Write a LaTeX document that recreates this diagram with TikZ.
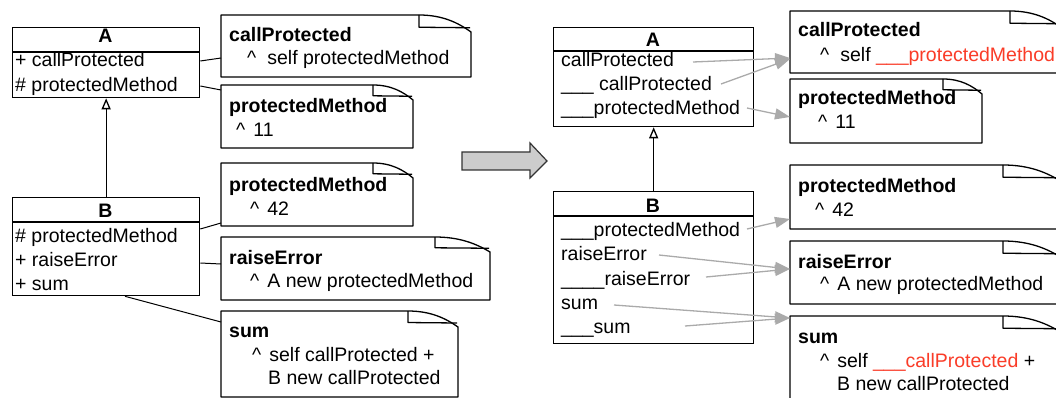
\documentclass[tikz,border=0pt]{standalone}
\usepackage{fontspec}
\setmainfont{Liberation Sans}
\usetikzlibrary{arrows.meta}
\definecolor{redt}{RGB}{250,60,40}
\definecolor{garr}{RGB}{170,170,170}
\definecolor{bigfill}{RGB}{204,204,204}
\newcommand\crt[1]{\textasciicircum\hspace{#1pt}}
\newcommand\mynote[7]{%
  \node[inner sep=0, outer sep=0, anchor=north west, minimum width={#4-#2}, minimum height={#5-#3}] (#1) at (#2,#3) {};
  \filldraw[fill=white, notedraw] (#2,#5) -- (#2,#3) -- (#6,#3) .. controls ({#6+0.45*(#4-#6)},#3) and ({#4-0.25*(#4-#6)},{#3+0.45*#7}) .. (#4,{#3+#7}) -- (#4,#5) -- cycle;
  \draw[notedraw] (#6,#3) -- (#6,{#3+0.72*#7}) -- ({#4-1},{#3+0.75*#7});
}
\begin{document}
\begin{tikzpicture}[x=1pt,y=-1pt,
  txt/.style={font=\fontsize{19.5}{24}\selectfont, inner sep=0, anchor=base west},
  ttl/.style={txt, font=\fontsize{19.5}{24}\selectfont\bfseries},
  classbox/.style={draw, line width=1.3pt, inner sep=0, anchor=north west},
  notedraw/.style={line width=1.3pt, line join=round},
  conn/.style={line width=1pt},
  garrow/.style={draw=garr, line width=1.3pt, -{Triangle[length=15pt,width=11pt]}},
  gen/.style={line width=1.3pt, -{Triangle[open,length=11pt,width=9pt,fill=white]}}
]
\clip (0,0) rectangle (1056,398);

% ---------- left: classes ----------
\node[classbox, minimum width=187pt, minimum height=70pt] (A) at (12,27) {};
\draw[line width=1.3pt] (A.west |- 0,52) -- (A.east |- 0,52);
\node[ttl, anchor=base] (At) at (105.5,43) {A};
\node[txt] (a1) at (15,67) {+ callProtected};
\node[txt] (a2) at (15,92) {\# protectedMethod};

\node[classbox, minimum width=187pt, minimum height=98pt] (B) at (12,197) {};
\draw[line width=1.3pt] (B.west |- 0,222) -- (B.east |- 0,222);
\node[ttl, anchor=base] (Bt) at (105.5,217) {B};
\node[txt] (b1) at (15,242) {\# protectedMethod};
\node[txt] (b2) at (15,266) {+ raiseError};
\node[txt] (b3) at (15,290) {+ sum};

\draw[gen] (B.north) -- (A.south);

% ---------- left: notes ----------
\mynote{n1}{221}{15}{471}{77}{419}{17}
\mynote{n2}{221}{85}{413}{148}{373}{15}
\mynote{n3}{221}{163}{413}{226}{373}{15}
\mynote{n4}{221}{237}{490}{300}{435}{15}
\mynote{n5}{221}{311}{458}{397}{408}{16}

\node[ttl] (n1a) at (229,42) {callProtected};
\node[txt] (n1b) at (247,65) {\crt{11}self protectedMethod};
\node[ttl] (n2a) at (229,113) {protectedMethod};
\node[txt] (n2b) at (236,137) {\crt{8}11};
\node[ttl] (n3a) at (229,191) {protectedMethod};
\node[txt] (n3b) at (250,215) {\crt{8}42};
\node[ttl] (n4a) at (229,264) {raiseError};
\node[txt] (n4b) at (250,287) {\crt{8}A new protectedMethod};
\node[ttl] (n5a) at (229,337) {sum};
\node[txt] (n5b) at (252,361) {\crt{8}self callProtected +};
\node[txt] (n5c) at (268,384) {B new callProtected};

\draw[conn] (A.east |- 0,61) -- (n1.west |- 0,58);
\draw[conn] (A.east |- 0,86) -- (n2.west |- 0,90);
\draw[conn] (B.east |- 0,229) -- (n3.west |- 0,223);
\draw[conn] (B.east |- 0,263) -- (n4.west |- 0,264);
\draw[conn] (B.south -| 125,0) -- (n5.west |- 0,322);

% ---------- big arrow ----------
\filldraw[fill=bigfill, draw=black!80, line width=1.2pt, line join=miter]
  (462,152) -- (530,152) -- (530,143) -- (547,161) -- (530,178) -- (530,170) -- (462,170) -- cycle;

% ---------- right: classes ----------
\node[classbox, minimum width=200pt, minimum height=99pt] (Ap) at (553,27) {};
\draw[line width=1.3pt] (Ap.west |- 0,51) -- (Ap.east |- 0,51);
\node[ttl, anchor=base] (Apt) at (653,47) {A};
\node[txt] (ap1) at (561,67) {callProtected};
\node[txt] (ap2) at (561,91) {\_\_\_ callProtected};
\node[txt] (ap3) at (561,115) {\_\_\_protectedMethod};

\node[classbox, minimum width=200pt, minimum height=152pt] (Bp) at (553,191) {};
\draw[line width=1.3pt] (Bp.west |- 0,216) -- (Bp.east |- 0,216);
\node[ttl, anchor=base] (Bpt) at (653,212) {B};
\node[txt] (bp1) at (561,236) {\_\_\_protectedMethod};
\node[txt] (bp2) at (561,260) {raiseError};
\node[txt] (bp3) at (561,285) {\_\_\_\_raiseError};
\node[txt] (bp4) at (561,309) {sum};
\node[txt] (bp5) at (561,333) {\_\_\_sum};

\draw[gen] (Bp.north) -- (Ap.south);

% ---------- right: notes ----------
\mynote{r1}{790}{11}{1062}{73}{1010}{17}
\mynote{r2}{790}{79}{982}{143}{943}{15}
\mynote{r3}{790}{165}{1062}{229}{1003}{17}
\mynote{r4}{790}{241}{1062}{304}{1003}{17}
\mynote{r5}{790}{316}{1062}{420}{1003}{17}

\node[ttl] (r1a) at (798,37) {callProtected};
\node[txt] (r1b) at (820,62) {\crt{11}self {\color{redt}\_\_\_protectedMethod}};
\node[ttl] (r2a) at (798,105) {protectedMethod};
\node[txt] (r2b) at (818,129) {\crt{8}11};
\node[ttl] (r3a) at (798,193) {protectedMethod};
\node[txt] (r3b) at (815,216) {\crt{8}42};
\node[ttl] (r4a) at (798,268) {raiseError};
\node[txt] (r4b) at (820,290) {\crt{8}A new protectedMethod};
\node[ttl] (r5a) at (798,343) {sum};
\node[txt] (r5b) at (820,367) {\crt{8}self {\color{redt}\_\_\_callProtected} +};
\node[txt] (r5c) at (837,390) {B new callProtected};

% ---------- gray arrows ----------
\coordinate (s1) at (693,62);
\coordinate (s2) at (721,84);
\coordinate (s3) at (747,108);
\coordinate (s4) at (747,229);
\coordinate (s5) at (659,255);
\coordinate (s6) at (706,277);
\coordinate (s7) at (614,305);
\coordinate (s8) at (685,326);
\draw[garrow] (s1) -- (r1.west |- 0,58);
\draw[garrow] (s2) -- (r1.west |- 0,59);
\draw[garrow] (s3) -- (r2.west |- 0,117);
\draw[garrow] (s4) -- (r3.west |- 0,219);
\draw[garrow] (s5) -- (r4.west |- 0,269);
\draw[garrow] (s6) -- (r4.west |- 0,269);
\draw[garrow] (s7) -- (r5.west |- 0,318);
\draw[garrow] (s8) -- (r5.west |- 0,318);
\end{tikzpicture}
\end{document}
